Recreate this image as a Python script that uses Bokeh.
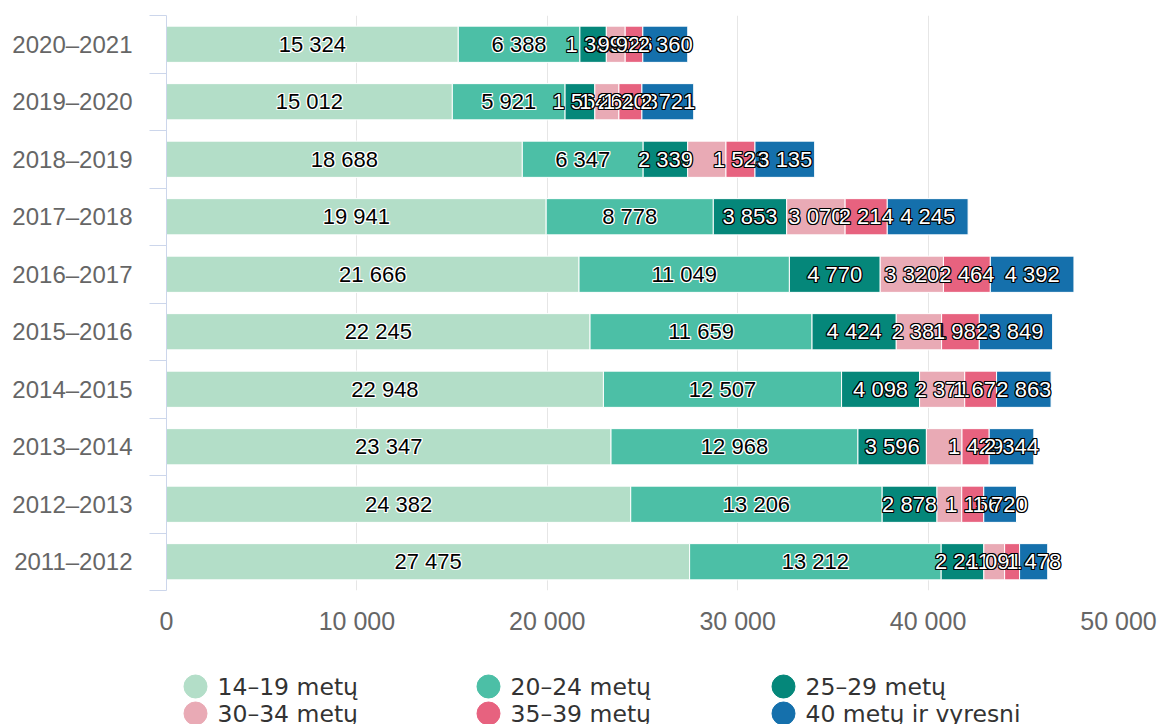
from bokeh.plotting import figure
from bokeh.models import Range1d, FixedTicker, ColumnDataSource
from bokeh.layouts import column
from bokeh.core.properties import value
from bokeh.embed import file_html
from bokeh.resources import INLINE

# ---------------- data (top to bottom) ----------------
categories = ["2020–2021", "2019–2020", "2018–2019", "2017–2018", "2016–2017",
              "2015–2016", "2014–2015", "2013–2014", "2012–2013", "2011–2012"]
series_names = ["14–19 metų", "20–24 metų", "25–29 metų",
                "30–34 metų", "35–39 metų", "40 metų ir vyresni"]
age_14_19 = [15324, 15012, 18688, 19941, 21666, 22245, 22948, 23347, 24382, 27475]
age_20_24 = [6388, 5921, 6347, 8778, 11049, 11659, 12507, 12968, 13206, 13212]
age_25_29 = [1389, 1564, 2339, 3853, 4770, 4424, 4098, 3596, 2878, 2241]
age_30_34 = [990, 1264, 2010, 3070, 3320, 2381, 2371, 1870, 1301, 1091]
age_35_39 = [926, 1208, 1523, 2214, 2464, 1982, 1672, 1429, 1156, 786]
age_40_plus = [2360, 2721, 3135, 4245, 4392, 3849, 2863, 2344, 1720, 1478]
x_ticks = [0, 10000, 20000, 30000, 40000, 50000]

series_values = [age_14_19, age_20_24, age_25_29, age_30_34, age_35_39, age_40_plus]

# styles
colors = ["#b3dec8", "#4cbfa6", "#05877a", "#e9aab5", "#e7627f", "#1570ac"]
label_dark = [True, True, False, False, False, False]   # black text w/ white halo
label_shown = [
    [True] * 10,
    [True] * 10,
    [True] * 10,
    [True, True, False, True, True, True, True, False, False, True],
    [True, True, True, True, True, True, True, True, True, False],
    [True] * 10,
]

FONT = "Liberation Sans"
W = 1158
BL, BR = 166, 40


def fmt(v):
    return f"{int(v):,}".replace(",", " ")


n = len(categories)
ys = [n - 1 - i for i in range(n)]

p = figure(width=W, height=648,
           x_range=Range1d(0, 50000), y_range=Range1d(-0.5, n - 0.5),
           output_backend="svg", toolbar_location=None,
           min_border_left=BL, min_border_right=BR,
           min_border_top=15, min_border_bottom=58)
p.outline_line_color = None
p.background_fill_color = "white"

# x axis
p.xaxis.ticker = FixedTicker(ticks=x_ticks)
p.xaxis.major_label_overrides = {t: fmt(t) for t in x_ticks}
p.xaxis.axis_line_color = None
p.xaxis.major_tick_line_color = None
p.xaxis.minor_tick_line_color = None
p.xaxis.major_label_standoff = 10
p.xaxis.major_label_text_font_size = "25px"
p.xaxis.major_label_text_color = "#666666"
p.xaxis.major_label_text_font = FONT
p.xgrid.grid_line_color = "#e6e6e6"
p.ygrid.grid_line_color = None

# y axis
boundaries = [y + 0.5 for y in range(-1, n)]
p.yaxis.ticker = FixedTicker(ticks=ys, minor_ticks=boundaries)
p.yaxis.major_label_overrides = {y: c for y, c in zip(ys, categories)}
p.yaxis.major_tick_line_color = None
p.yaxis.major_tick_out = 0
p.yaxis.major_tick_in = 0
p.yaxis.minor_tick_out = 17
p.yaxis.minor_tick_in = 0
p.yaxis.minor_tick_line_color = "#ccd6eb"
p.yaxis.axis_line_color = "#ccd6eb"
p.yaxis.major_label_standoff = 17
p.yaxis.major_label_text_font_size = "24px"
p.yaxis.major_label_text_color = "#666666"
p.yaxis.major_label_text_font = FONT

# bars
lefts = [0] * n
label_layers = []
for k, vals in enumerate(series_values):
    rights = [l + v for l, v in zip(lefts, vals)]
    src = ColumnDataSource(dict(y=ys, left=lefts, right=rights))
    p.hbar(y="y", left="left", right="right", height=0.63, source=src,
           fill_color=colors[k], line_color="white", line_width=1)
    lx, ly, lt = [], [], []
    for i in range(n):
        if label_shown[k][i]:
            lx.append(lefts[i] + vals[i] / 2)
            ly.append(ys[i])
            lt.append(fmt(vals[i]))
    label_layers.append((ColumnDataSource(dict(x=lx, y=ly, t=lt)), label_dark[k]))
    lefts = rights

# data labels with halo
offsets = [(-1, -1), (-1, 0), (-1, 1), (0, -1), (0, 1), (1, -1), (1, 0), (1, 1)]
for src, dark in label_layers:
    fill = "#000000" if dark else "#ffffff"
    halo = "#ffffff" if dark else "#000000"
    for dx, dy in offsets:
        p.text(x="x", y="y", text="t", source=src, x_offset=dx, y_offset=dy,
               text_color=halo, text_align="center", text_baseline="middle",
               text_font=value(FONT), text_font_size="22px")
    p.text(x="x", y="y", text="t", source=src,
           text_color=fill, text_align="center", text_baseline="middle",
           text_font=value(FONT), text_font_size="22px")

# ---------------- legend figure ----------------
LH = 76
FL, FR = BL, W - BR     # frame edges in page pixels
lg = figure(width=W, height=LH, x_range=Range1d(FL, FR), y_range=Range1d(LH, 0),
            output_backend="svg", toolbar_location=None,
            min_border_left=BL, min_border_right=BR,
            min_border_top=0, min_border_bottom=0)
lg.axis.visible = False
lg.grid.grid_line_color = None
lg.outline_line_color = None
col_x = [195, 488, 783]
row_y = [38, 65]
lx = [col_x[k % 3] for k in range(len(series_names))]
ly = [row_y[k // 3] for k in range(len(series_names))]
lsrc = ColumnDataSource(dict(x=lx, y=ly, c=colors, t=series_names))
lg.scatter(x="x", y="y", source=lsrc, size=23, marker="circle",
           fill_color="c", line_color="c")
lg.text(x="x", y="y", text="t", source=lsrc, x_offset=22, text_color="#333333",
        text_align="left", text_baseline="middle",
        text_font=value("DejaVu Sans"), text_font_size="23.5px")

layout = column(p, lg, spacing=0)
open("out.html", "w").write(file_html(layout, INLINE))
